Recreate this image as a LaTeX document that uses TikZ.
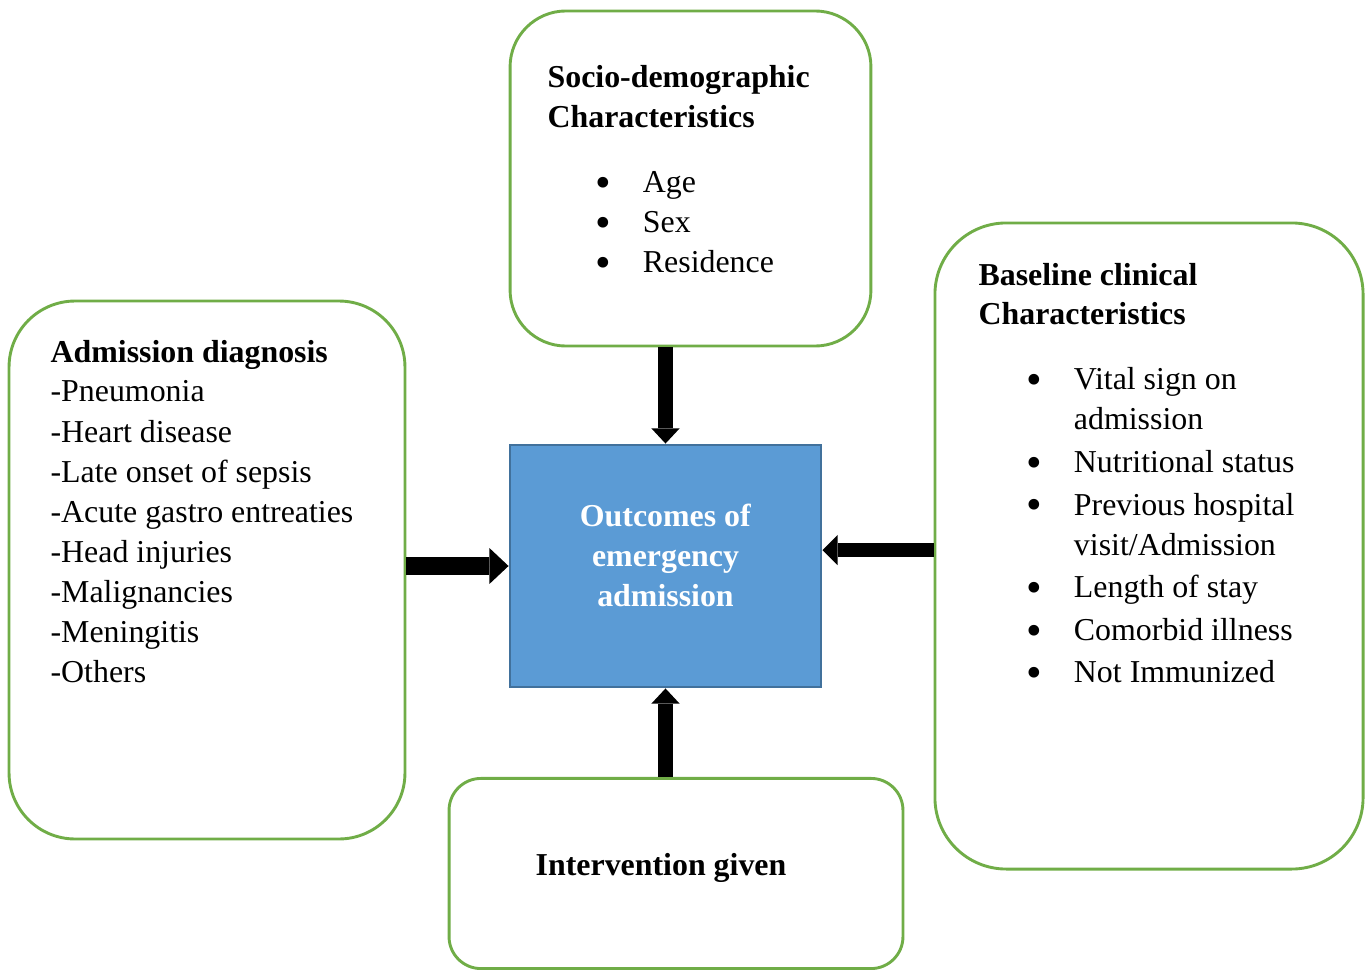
\documentclass[tikz,border=0pt]{standalone}
\usepackage{fontspec}
\setmainfont{Liberation Serif}
\usetikzlibrary{arrows.meta,positioning}
\definecolor{boxgreen}{RGB}{112,173,71}
\definecolor{outfill}{RGB}{91,155,213}
\definecolor{outborder}{RGB}{65,113,156}
\tikzset{
        roundbox/.style={
            rectangle, draw=boxgreen, line width=1pt,
            fill=white
        },
        outcome/.style={
            rectangle, draw=outborder, line width=1pt,
            fill=outfill, minimum width=107.3pt,
            minimum height=83.5pt
        },
        boxtext/.style={
            inner sep=0pt, align=flush left,
            font=\fontsize{11}{13.8}\selectfont
        },
        blockarrow/.style n args={3}{
            draw, fill=black, line width=#1,
            -{Triangle[width=#2, length=#3, line width=0pt]}
        }
    }
\newcommand{\bitem}[1]{\hspace*{16.4pt}\makebox[16.5pt][l]{\smash{\raisebox{-1.6pt}{\scalebox{1.4}{\textbullet}}}}#1}

\begin{document}
\begin{tikzpicture}[x=0.345pt, y=-0.345pt]
    \useasboundingbox (0,0) rectangle (1366,970);

    \node[roundbox, minimum width=124.5pt, minimum height=115.6pt, rounded corners=19.3pt] (socio) at (690.5,178.5) {};
    \node[roundbox, minimum width=136.6pt, minimum height=185.6pt, rounded corners=22.8pt] (diag) at (207,570) {};
    \node[roundbox, minimum width=147.7pt, minimum height=222.9pt, rounded corners=24.6pt] (clinic) at (1149,546) {};
    \node[roundbox, minimum width=156.6pt, minimum height=65.6pt, rounded corners=11pt] (interv) at (676,873.5) {};
    \node[outcome] (outc) at (665.5,566) {};

    \node[boxtext, text width=110pt, anchor=base west] (socioTxt) at (547,88)
        {\textbf{Socio-demographic}\\\textbf{Characteristics}\\[8.6pt]%
         \bitem{Age}\\\bitem{Sex}\\\bitem{Residence}};
    \node[boxtext, text width=120pt, anchor=base west] (diagTxt) at (50,362)
        {\textbf{Admission diagnosis}\\-Pneumonia\\-Heart disease\\-Late onset of sepsis\\%
         -Acute gastro entreaties\\-Head injuries\\-Malignancies\\-Meningitis\\-Others};
    \node[boxtext, text width=130pt, anchor=base west] (clinicTxt) at (978,285)
        {\textbf{Baseline clinical}\\\textbf{Characteristics}\\[8.6pt]%
         \bitem{Vital sign on}\\\hspace*{32.9pt}admission\\[0.9pt]%
         \bitem{Nutritional status}\\[0.9pt]%
         \bitem{Previous hospital}\\\hspace*{32.9pt}visit/Admission\\[0.9pt]%
         \bitem{Length of stay}\\[0.9pt]%
         \bitem{Comorbid illness}\\[0.9pt]%
         \bitem{Not Immunized}};
    \node[boxtext, anchor=base] (intervTxt) at (661,875) {\textbf{Intervention given}};
    \node[boxtext, text width=107pt, align=flush center, text=white, anchor=base] (outcTxt) at (665.5,526)
        {\textbf{Outcomes of}\\\textbf{emergency}\\\textbf{admission}};

    \draw[blockarrow={6.2pt}{12.4pt}{6.6pt}] (diag.east |- outc.west) -- (outc.west);
    \draw[blockarrow={4.8pt}{10.4pt}{5.2pt}] ([yshift=-1.4pt]clinic.west) -- ([yshift=-1.4pt]outc.east |- clinic.west);
    \draw[blockarrow={5.2pt}{9.7pt}{5.2pt}] (socio.south -| outc.north) -- (outc.north);
    \draw[blockarrow={5.2pt}{9.7pt}{5.2pt}] (interv.north -| outc.south) -- (outc.south);

\end{tikzpicture}
\end{document}
